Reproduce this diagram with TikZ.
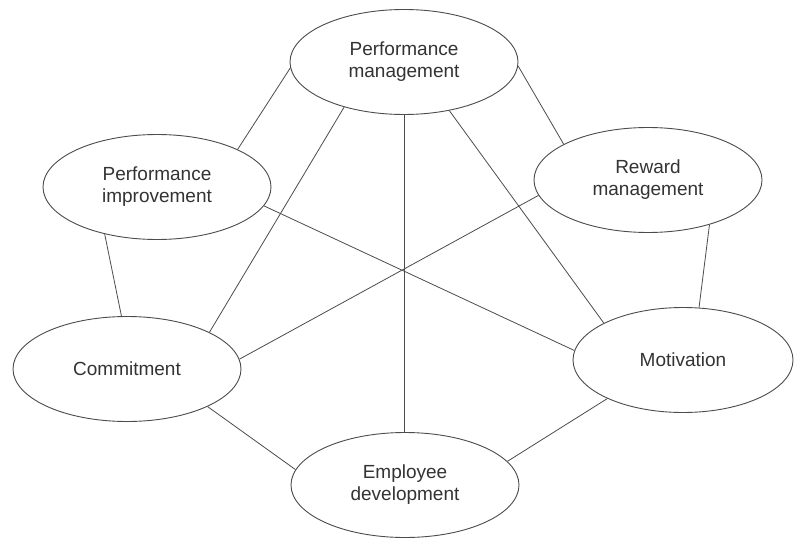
\documentclass[tikz,border=0pt]{standalone}
\usepackage{fontspec}
\setmainfont{Liberation Sans}
\usetikzlibrary{shapes.geometric}
\begin{document}
\begin{tikzpicture}[x=1pt,y=-1pt,
  box/.style={ellipse, draw=black!70, line width=0.9pt, minimum width=228pt, minimum height=105pt,
    inner sep=0pt, align=center, font=\fontsize{19}{22}\selectfont, text=black!80},
  link/.style={draw=black!70, line width=0.8pt}]
\useasboundingbox[fill=white] (0,0) rectangle (794,540);
\node[box] (pm) at (404,62) {Performance\\management};
\node[box] (pi) at (157,187) {Performance\\improvement};
\node[box] (rm) at (648,180) {Reward\\management};
\node[box] (cm) at (127,369) {Commitment};
\node[box, minimum width=220pt] (mo) at (683,360) {Motivation};
\node[box] (ed) at (405,485) {Employee\\development};
% outer ring
\draw[link] (pm.183) -- (pi.25);
\draw[link] (pm.-2) -- (rm.157);
\draw[link] (pi.222) -- (cm.96);
\draw[link] (rm.324) -- (mo.73);
\draw[link] (cm.335) -- (ed.172);
\draw[link] (mo.207) -- (ed.13);
% inner lines
\draw[link] (pm.south) -- (pm.south |- ed.north);
\draw[link] (pm.217) -- (cm.24);
\draw[link] (pm.313) -- (mo.155);
\draw[link] (pi.350) -- (mo.175);
\draw[link] (rm.188) -- (cm.5);
\end{tikzpicture}
\end{document}
